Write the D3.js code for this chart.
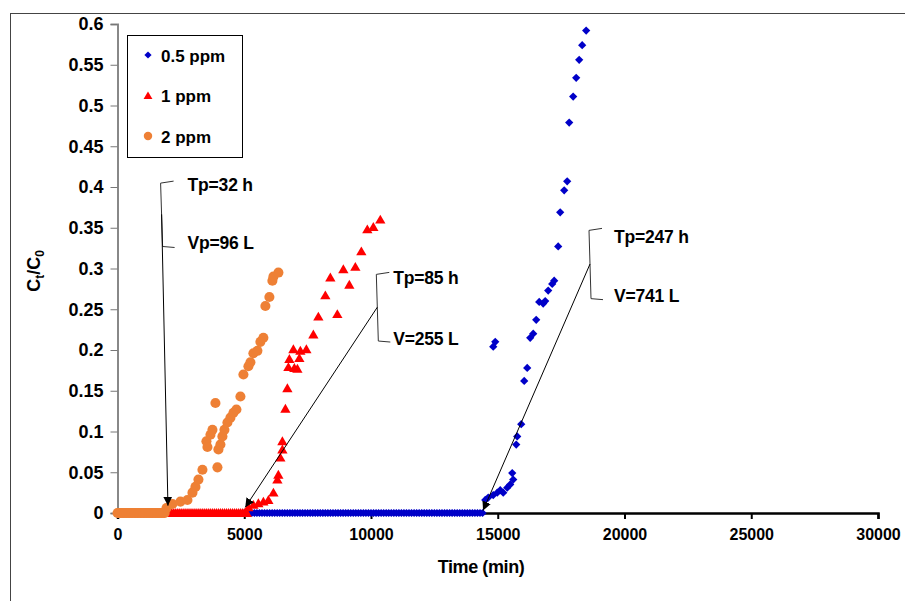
<!DOCTYPE html>
<html>
<head>
<meta charset="utf-8">
<script src="https://cdn.jsdelivr.net/npm/d3@7"></script>
<style>
  body { margin: 0; background: #fff; }
  text { font-family: "Liberation Sans", Arial, sans-serif; font-weight: bold; }
</style>
</head>
<body>
<div id="chart"></div>
<script>
// data: time (min) and Ct/C0
// flat part of each curve (Ct/C0 = 0), sampled densely
const blueBaseTime = [5000, 5100, 5200, 5300, 5400, 5500, 5600, 5700, 5800, 5900, 6000, 6100, 6200, 6300, 6400,
  6500, 6600, 6700, 6800, 6900, 7000, 7100, 7200, 7300, 7400, 7500, 7600, 7700, 7800, 7900, 8000, 8100, 8200,
  8300, 8400, 8500, 8600, 8700, 8800, 8900, 9000, 9100, 9200, 9300, 9400, 9500, 9600, 9700, 9800, 9900, 10000,
  10100, 10200, 10300, 10400, 10500, 10600, 10700, 10800, 10900, 11000, 11100, 11200, 11300, 11400, 11500,
  11600, 11700, 11800, 11900, 12000, 12100, 12200, 12300, 12400, 12500, 12600, 12700, 12800, 12900, 13000,
  13100, 13200, 13300, 13400, 13500, 13600, 13700, 13800, 13900, 14000, 14100, 14200, 14300, 14400];
const redBaseTime = [1900, 1980, 2060, 2140, 2220, 2300, 2380, 2460, 2540, 2620, 2700, 2780, 2860, 2940, 3020,
  3100, 3180, 3260, 3340, 3420, 3500, 3580, 3660, 3740, 3820, 3900, 3980, 4060, 4140, 4220, 4300, 4380, 4460,
  4540, 4620, 4700, 4780, 4860, 4940, 5020, 5100];
const orangeBaseTime = [0, 60, 120, 180, 240, 300, 360, 420, 480, 540, 600, 660, 720, 780, 840, 900, 960, 1020,
  1080, 1140, 1200, 1260, 1320, 1380, 1440, 1500, 1560, 1620, 1680, 1740, 1800, 1860];

// rising part of each curve
const blueTime = [14507, 14625, 14822, 14980, 15098, 15216, 15374, 15492, 15611, 15571, 15729, 15768, 15926,
  14822, 14901, 16044, 16162, 16280, 16399, 16517, 16635, 16793, 16872, 16990, 17148, 17227, 17384, 17463,
  17621, 17739, 17818, 17975, 18094, 18212, 18330, 18488];
const blueConc = [0.016, 0.019, 0.022, 0.025, 0.028, 0.025, 0.031, 0.035, 0.041, 0.049, 0.084, 0.094, 0.109,
  0.204, 0.210, 0.162, 0.178, 0.215, 0.220, 0.237, 0.259, 0.257, 0.260, 0.273, 0.281, 0.285, 0.327, 0.369,
  0.396, 0.407, 0.479, 0.511, 0.534, 0.556, 0.574, 0.592];

const redTime = [5164, 5361, 5558, 5755, 5952, 6150, 6307, 6346, 6425, 6504, 6504, 6623, 6701, 6741, 6780,
  6938, 6977, 7096, 7174, 7214, 7450, 7726, 7923, 8199, 8396, 8672, 8909, 9145, 9382, 9619, 9855, 10092, 10367];
const redConc = [0.007, 0.010, 0.012, 0.014, 0.016, 0.025, 0.041, 0.047, 0.068, 0.078, 0.088, 0.128, 0.153,
  0.179, 0.189, 0.201, 0.178, 0.177, 0.190, 0.199, 0.201, 0.219, 0.241, 0.267, 0.289, 0.244, 0.299, 0.280,
  0.302, 0.321, 0.348, 0.351, 0.360];

const orangeTime = [1932, 2168, 2483, 2759, 2957, 3075, 3193, 3351, 3508, 3548, 3666, 3745, 3863, 3942, 3981,
  4060, 4139, 4218, 4336, 4455, 4573, 4691, 4849, 4967, 5164, 5243, 5361, 5519, 5637, 5755, 5834, 5992, 6110,
  6150, 6347];
const orangeConc = [0.006, 0.011, 0.014, 0.016, 0.025, 0.032, 0.041, 0.053, 0.088, 0.081, 0.096, 0.102, 0.135,
  0.056, 0.078, 0.084, 0.094, 0.102, 0.111, 0.117, 0.123, 0.127, 0.143, 0.170, 0.180, 0.185, 0.196, 0.199,
  0.210, 0.215, 0.254, 0.265, 0.285, 0.290, 0.295];

const seriesNames = ["0.5 ppm", "1 ppm", "2 ppm"];
const xTicks = [0, 5000, 10000, 15000, 20000, 25000, 30000];
const yTicks = [0, 0.05, 0.1, 0.15, 0.2, 0.25, 0.3, 0.35, 0.4, 0.45, 0.5, 0.55, 0.6];

// callouts: bracket position (time, top conc, bottom conc), arrow tip, labels
const callouts = [
  { t: 1700, top: 0.406, bottom: 0.327, tipT: 1990, tipC: 0.009, dx: 27, dy1: 9, dy2: 3, l1: "Tp=32 h", l2: "Vp=96 L" },
  { t: 10210, top: 0.294, bottom: 0.211, tipT: 5040, tipC: 0.007, dx: 17, dy1: 11, dy2: 4, l1: "Tp=85 h", l2: "V=255 L" },
  { t: 18600, top: 0.348, bottom: 0.263, tipT: 14420, tipC: 0.003, dx: 25, dy1: 14, dy2: 3.5, l1: "Tp=247 h", l2: "V=741 L" }
];

const W = 905, H = 601;
const margin = { top: 24, right: 27, bottom: 88, left: 117.5 };
const width = W - margin.left - margin.right,
      height = H - margin.top - margin.bottom;

const svg = d3.select("#chart").append("svg")
  .attr("width", W).attr("height", H);

// outer frame (runs off right and bottom)
svg.append("rect")
  .attr("x", 10.5).attr("y", 13.5)
  .attr("width", W + 20).attr("height", H + 20)
  .attr("fill", "none").attr("stroke", "#444").attr("stroke-width", 1);

svg.append("defs").append("marker")
  .attr("id", "arrow")
  .attr("viewBox", "0 0 10 10")
  .attr("refX", 10).attr("refY", 5)
  .attr("markerWidth", 9).attr("markerHeight", 9)
  .attr("markerUnits", "userSpaceOnUse")
  .attr("orient", "auto")
  .append("path")
  .attr("d", "M0,0 L10,5 L0,10 Z")
  .attr("fill", "#000");

const g = svg.append("g")
  .attr("transform", `translate(${margin.left},${margin.top})`);

const x = d3.scaleLinear().domain([0, 30000]).range([0, width]);
const y = d3.scaleLinear().domain([0, 0.6]).range([height, 0]);

// Y axis (grey)
const yAxis = g.append("g")
  .call(d3.axisLeft(y).tickValues(yTicks).tickSize(7).tickPadding(7).tickFormat(d => d3.format("~g")(d)));
yAxis.select(".domain").attr("stroke", "#888").attr("stroke-width", 2);
yAxis.selectAll(".tick line").attr("stroke", "#777");
yAxis.selectAll(".tick text").attr("font-size", 18).attr("fill", "#000");

// X axis (black, heavier)
const xAxis = g.append("g")
  .attr("transform", `translate(0,${height})`)
  .call(d3.axisBottom(x).tickValues(xTicks).tickSizeOuter(0).tickSize(6).tickPadding(10).tickFormat(d3.format("d")));
xAxis.select(".domain").attr("stroke", "#000").attr("stroke-width", 2.5);
xAxis.selectAll(".tick line").attr("stroke", "#000").attr("stroke-width", 2);
xAxis.selectAll(".tick text").attr("font-size", 16).attr("fill", "#000");

// axis titles
svg.append("text")
  .attr("x", 481).attr("y", 573)
  .attr("text-anchor", "middle").attr("font-size", 18)
  .attr("letter-spacing", -0.4)
  .text("Time (min)");

const yt = svg.append("text")
  .attr("transform", "translate(40,271) rotate(-90)")
  .attr("text-anchor", "middle").attr("font-size", 18);
yt.append("tspan").text("C");
yt.append("tspan").attr("font-size", 12).attr("dy", 4).text("t");
yt.append("tspan").attr("dy", -4).text("/C");
yt.append("tspan").attr("font-size", 12).attr("dy", 4).text("0");

// markers
const diamond = d3.symbol().type(d3.symbolSquare).size(34);
const triangle = d3.symbol().type(d3.symbolTriangle).size(46);
const circle = d3.symbol().type(d3.symbolCircle).size(80);

const blueData = blueBaseTime.map(t => ({ t, c: 0 }))
  .concat(blueTime.map((t, i) => ({ t, c: blueConc[i] })));
const redData = redBaseTime.map(t => ({ t, c: 0 }))
  .concat(redTime.map((t, i) => ({ t, c: redConc[i] })));
const orangeData = orangeBaseTime.map(t => ({ t, c: 0 }))
  .concat(orangeTime.map((t, i) => ({ t, c: orangeConc[i] })));

g.append("g").selectAll("path")
  .data(blueData).join("path")
  .attr("d", diamond)
  .attr("transform", d => `translate(${x(d.t)},${y(d.c)}) rotate(45)`)
  .attr("fill", "#0000c8");

g.append("g").selectAll("path")
  .data(redData).join("path")
  .attr("d", triangle)
  .attr("transform", d => `translate(${x(d.t)},${y(d.c) + 1})`)
  .attr("fill", "#ff0000");

g.append("g").selectAll("path")
  .data(orangeData).join("path")
  .attr("d", circle)
  .attr("transform", d => `translate(${x(d.t)},${y(d.c)})`)
  .attr("fill", "#ee8035");

// callouts
callouts.forEach(c => {
  const bx = x(c.t), yTop = y(c.top), yBot = y(c.bottom);
  g.append("path")
    .attr("d", `M${bx + 13},${yTop - 1} L${bx},${yTop + 1} L${bx + 2},${yBot} L${bx + 14},${yBot + 1}`)
    .attr("fill", "none").attr("stroke", "#333").attr("stroke-width", 1);
  g.append("line")
    .attr("x1", bx + 1).attr("y1", (yTop + yBot) / 2)
    .attr("x2", x(c.tipT)).attr("y2", y(c.tipC))
    .attr("stroke", "#000").attr("stroke-width", 1)
    .attr("marker-end", "url(#arrow)");
  g.append("text")
    .attr("x", bx + c.dx).attr("y", yTop + c.dy1)
    .attr("font-size", 17.5).attr("letter-spacing", -0.2).text(c.l1);
  g.append("text")
    .attr("x", bx + c.dx).attr("y", yBot + c.dy2)
    .attr("font-size", 17.5).attr("letter-spacing", -0.2).text(c.l2);
});

// legend
const legend = svg.append("g").attr("transform", "translate(127,35)");
legend.append("rect")
  .attr("x", 0.5).attr("y", 0.5).attr("width", 115).attr("height", 122)
  .attr("fill", "#fff").attr("stroke", "#000").attr("stroke-width", 1);
const legendSym = [
  { path: d3.symbol().type(d3.symbolSquare).size(26)(), rot: 45, color: "#0000c8", dy: 0 },
  { path: d3.symbol().type(d3.symbolTriangle).size(34)(), rot: 0, color: "#ff0000", dy: 1 },
  { path: d3.symbol().type(d3.symbolCircle).size(56)(), rot: 0, color: "#ee8035", dy: 0 }
];
seriesNames.forEach((name, i) => {
  const ly = 20 + i * 40.5;
  legend.append("path")
    .attr("d", legendSym[i].path)
    .attr("transform", `translate(21,${ly + legendSym[i].dy}) rotate(${legendSym[i].rot})`)
    .attr("fill", legendSym[i].color);
  legend.append("text")
    .attr("x", 34).attr("y", ly + 6.5)
    .attr("font-size", 17).text(name);
});
</script>
</body>
</html>
